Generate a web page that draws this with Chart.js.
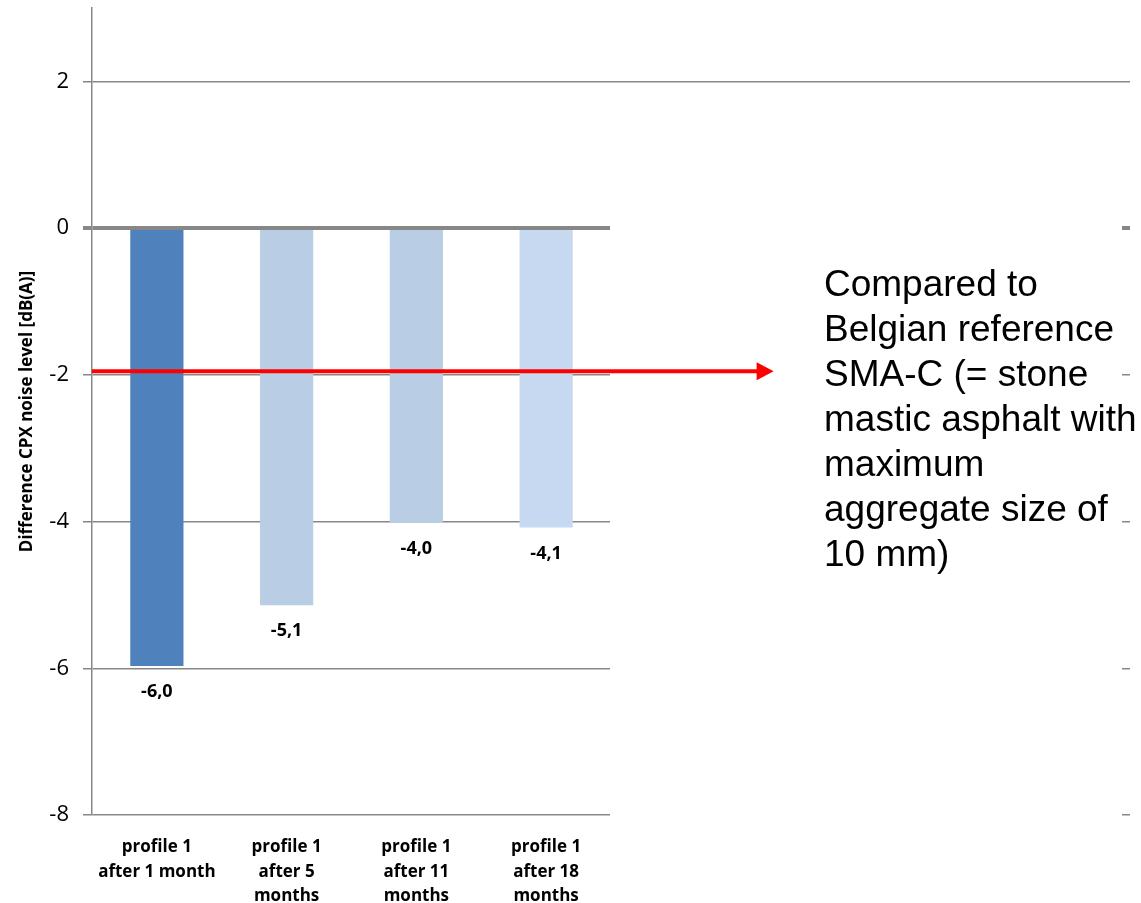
<!DOCTYPE html>
<html>
<head>
<meta charset="utf-8">
<script src="https://cdn.jsdelivr.net/npm/chart.js@4.4.1/dist/chart.umd.min.js"></script>
<style>
  body { margin: 0; background: #fff; }
  #wrap { position: relative; width: 1141px; height: 903px; }
  #note {
    position: absolute; left: 824px; top: 261px;
    font-family: "Liberation Sans", Arial, sans-serif;
    font-size: 37px; line-height: 45px; color: #000;
    white-space: nowrap;
  }
</style>
</head>
<body>
<div id="wrap">
  <canvas id="noiseChart"></canvas>
  <div id="note">Compared to<br>Belgian reference<br>SMA-C (= stone<br>mastic asphalt with<br>maximum<br>aggregate size of<br>10 mm)</div>
</div>
<script>
// categories (last four slots are empty, the note sits over them)
const categories = [
  ['profile 1', 'after 1 month'],
  ['profile 1', 'after 5', 'months'],
  ['profile 1', 'after 11', 'months'],
  ['profile 1', 'after 18', 'months'],
  '', '', '', ''
];
const differences = [-5.97, -5.14, -4.02, -4.08, null, null, null, null];
const barColors = ['#4F81BD', '#B9CDE5', '#B9CDE5', '#C6D9F1'];
const yTicks = [-8, -6, -4, -2, 0, 2];
const referenceLevel = -1.95;

const overlay = {
  id: 'overlay',
  afterDraw(chart) {
    const ctx = chart.ctx;
    const x = chart.scales.x;
    const y = chart.scales.y;
    const area = chart.chartArea;

    // white box of the note covers the grid on the right
    const maskLeft = x.getPixelForValue(3) + x.width / 16 - 1;
    ctx.save();
    ctx.fillStyle = '#fff';
    ctx.fillRect(maskLeft, y.getPixelForValue(1.2), area.right - 8 - maskLeft, chart.height);

    // red arrow
    const ay = y.getPixelForValue(referenceLevel);
    const tip = x.getPixelForValue(5) - 32;
    ctx.strokeStyle = '#FF0000';
    ctx.fillStyle = '#FF0000';
    ctx.lineWidth = 4;
    ctx.beginPath();
    ctx.moveTo(area.left, ay);
    ctx.lineTo(tip - 14, ay);
    ctx.stroke();
    ctx.beginPath();
    ctx.moveTo(tip, ay);
    ctx.lineTo(tip - 17, ay - 9);
    ctx.lineTo(tip - 17, ay + 9);
    ctx.closePath();
    ctx.fill();

    // value labels under the bars
    ctx.fillStyle = '#000';
    ctx.font = 'bold 18px "Open Sans", sans-serif';
    ctx.textAlign = 'center';
    ctx.textBaseline = 'middle';
    chart.getDatasetMeta(0).data.forEach((bar, i) => {
      const v = differences[i];
      if (v === null) return;
      ctx.fillText(v.toFixed(1).replace('.', ','), bar.x, bar.y + 26);
    });
    ctx.restore();
  }
};

new Chart(document.getElementById('noiseChart'), {
  type: 'bar',
  data: {
    labels: categories,
    datasets: [{
      data: differences,
      backgroundColor: barColors,
      barPercentage: 0.41,
      categoryPercentage: 1
    }]
  },
  options: {
    responsive: true,
    maintainAspectRatio: false,
    animation: false,
    layout: { padding: { top: 8, right: 11, left: 0, bottom: 0 } },
    plugins: {
      legend: { display: false },
      tooltip: { enabled: false }
    },
    scales: {
      x: {
        grid: { display: false },
        border: { display: false },
        ticks: {
          color: '#000',
          font: { family: 'Open Sans', size: 17, weight: 'bold', lineHeight: 1.45 },
          maxRotation: 0,
          autoSkip: false,
          padding: 12
        },
        afterFit(scale) { scale.height = 88; }
      },
      y: {
        min: -8,
        max: 3,
        afterBuildTicks(scale) {
          scale.ticks = yTicks.map(v => ({ value: v }));
        },
        grid: {
          color: '#878787',
          lineWidth: ctx => (ctx.tick && ctx.tick.value === 0 ? 4 : 1.5),
          tickLength: 9
        },
        border: { display: true, color: '#878787', width: 1.5 },
        ticks: {
          color: '#000',
          font: { family: 'Open Sans', size: 22 },
          padding: 14,
          callback: v => String(v)
        },
        title: {
          display: true,
          text: 'Difference CPX noise level [dB(A)]',
          color: '#000',
          font: { family: 'Open Sans', size: 17, weight: 'bold' },
          padding: { top: 17, bottom: 0 }
        },
        afterFit(scale) {
          scale.width = 92;
          scale.paddingTop = 0;
          scale.paddingBottom = 0;
        }
      }
    }
  },
  plugins: [overlay]
});
</script>
</body>
</html>
